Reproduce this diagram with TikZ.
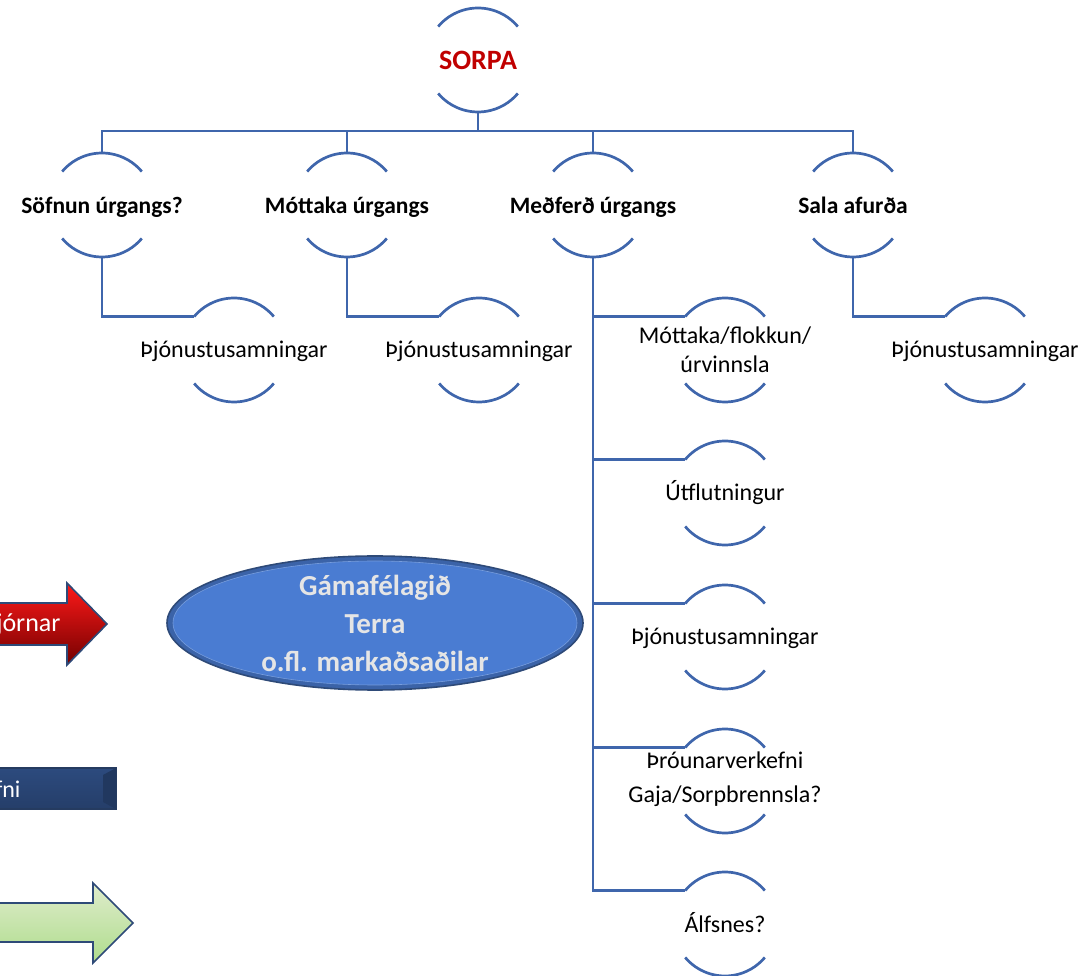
\documentclass[tikz,border=0pt]{standalone}
\usepackage{fontspec}
\setmainfont{Carlito}
\usetikzlibrary{shapes.geometric}

\definecolor{linkblue}{HTML}{3F66AC}
\definecolor{sorpared}{HTML}{C00000}
\definecolor{edgeblue}{HTML}{2E4A78}
\definecolor{ovalblue}{HTML}{4A7CD2}

\tikzset{
  ring/.style={circle, minimum size=104pt, inner sep=0pt, outer sep=0pt},
  link/.style={draw=linkblue, line width=2.9pt},
  roottext/.style={font=\fontsize{28}{32}\selectfont\bfseries, text=sorpared},
  headtext/.style={font=\fontsize{23.5}{28}\selectfont\bfseries, text height=17pt, text depth=5pt, yshift=-3pt},
  bodytext/.style={font=\fontsize{24}{29}\selectfont, text height=17pt, text depth=5pt, yshift=-2pt},
  bodylines/.style={font=\fontsize{24}{29}\selectfont, align=center},
  gamatext/.style={font=\fontsize{29}{38}\selectfont\bfseries, text=black!10, align=center},
  arrowtext/.style={font=\fontsize{26}{30}\selectfont, text=white, anchor=east},
}

\begin{document}
\begin{tikzpicture}[x=1pt,y=1pt]
\useasboundingbox (0,0) rectangle (1081,975);
\clip (0,0) rectangle (1081,975);

% ============================================
% HIERARCHY
% ============================================
        % Root
        \node[ring, label={[roottext]center:SORPA}] (sorpa) at (478,915) {};
        % First level
        \node[ring, label={[headtext]center:Söfnun úrgangs?}] (sofnun) at (102,770) {};
        \node[ring, label={[headtext]center:Móttaka úrgangs}] (mottaka) at (347,770) {};
        \node[ring, label={[headtext]center:Meðferð úrgangs}] (medferd) at (593,770) {};
        \node[ring, label={[headtext]center:Sala afurða}] (sala) at (853,770) {};
        % Second level
        \node[ring, label={[bodytext]center:Þjónustusamningar}] (sofnunsub) at (234,625) {};
        \node[ring, label={[bodytext]center:Þjónustusamningar}] (mottakasub) at (479,625) {};
        \node[ring, label={[bodytext]center:Þjónustusamningar}] (salasub) at (985,625) {};
        \node[ring, label={[bodylines]center:Móttaka/flokkun/\\úrvinnsla}] (flokkun) at (725,625) {};
        \node[ring, label={[bodytext]center:Útflutningur}] (utflutn) at (725,482) {};
        \node[ring, label={[bodytext]center:Þjónustusamningar}] (thjonusta) at (725,338) {};
        \node[ring, label={[bodylines, yshift=2pt]center:Þróunarverkefni\\[5pt]Gaja/Sorpbrennsla?}] (throun) at (725,194) {};
        \node[ring, label={[bodytext]center:Álfsnes?}] (alfsnes) at (725,51) {};
        % Arcs round every node
        \foreach \n in {sorpa,sofnun,mottaka,medferd,sala,sofnunsub,mottakasub,salasub,
                        flokkun,utflutn,thjonusta,throun,alfsnes}
          \draw[link, line width=2.7pt] (\n.140) arc[start angle=140, end angle=40, radius=52pt]
                (\n.220) arc[start angle=220, end angle=320, radius=52pt];
        % Connectors
        \coordinate (bus) at (478,844);
        \draw[link] (sorpa.south) -- (bus);
        \foreach \n in {sofnun,mottaka,medferd,sala}
          \draw[link] (bus) -| (\n.north);
        \draw[link] (sofnun.south) |- (sofnunsub.140);
        \draw[link] (mottaka.south) |- (mottakasub.140);
        \draw[link] (sala.south) |- (salasub.140);
        \foreach \n in {flokkun,utflutn,thjonusta,throun,alfsnes}
          \draw[link] (medferd.south) |- (\n.140);

% ============================================
% OVAL
% ============================================
        \node[ellipse, minimum width=416pt, minimum height=134pt, inner sep=0pt,
              fill=ovalblue!80!black, draw=edgeblue, line width=1.6pt] (gama) at (375,352) {};
        \fill[ovalblue] (gama.center) ellipse [x radius=202, y radius=62];
        \draw[ovalblue!75!white, line width=0.6pt] (gama.center) ellipse [x radius=202, y radius=62];
        \node[gamatext] (gamalabel) at (gama.center) {Gámafélagið\\Terra\\o.fl. markaðsaðilar};

% ============================================
% LEFT ARROWS
% ============================================
        % Red arrow
        \draw[edgeblue, line width=1.6pt, top color=red!90!white, middle color=red!80!black,
              bottom color=red!45!black]
          (-20,372) -- (67,372) -- (67,392) -- (107,351) -- (67,310) -- (67,330) -- (-20,330) -- cycle;
        \node[arrowtext] (redlabel) at (64,350) {jórnar};
        % Blue bar
        \draw[edgeblue!80!black, line width=1.4pt, top color=ovalblue!60!black,
              middle color=ovalblue!75!white, bottom color=ovalblue!50!black]
          (-20,207) rectangle (116,166);
        \fill[ovalblue!45!black] (103,200) -- (116,207) -- (116,166) -- (103,173) -- cycle;
        \node[arrowtext, font=\fontsize{24}{28}\selectfont] (bluelabel) at (24,186) {fni};
        % Green arrow
        \draw[edgeblue, line width=1.6pt, top color=green!25!olive!20!white,
              middle color=green!5!white, bottom color=green!40!olive!45!white]
          (-20,72) -- (93,72) -- (93,92) -- (133,52) -- (93,12) -- (93,33) -- (-20,33) -- cycle;
\end{tikzpicture}
\end{document}
